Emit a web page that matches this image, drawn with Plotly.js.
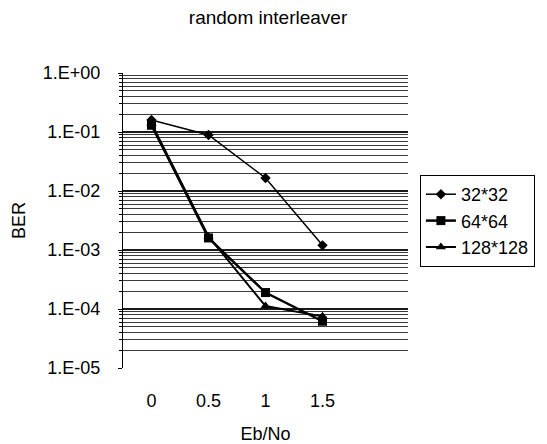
<!DOCTYPE html>
<html>
<head>
<meta charset="utf-8">
<script src="https://cdn.plot.ly/plotly-3.0.1.min.js"></script>
<style>html,body{margin:0;padding:0;background:#fff;}#chart{width:547px;height:444px;}</style>
</head>
<body>
<div id="chart"></div>
<script>
const ebno = [0, 0.5, 1, 1.5];
const ber32 = [0.16, 0.089, 0.0166, 0.0012];
const ber64 = [0.13, 0.0016, 0.00019, 0.000062];
const ber128 = [0.14, 0.0017, 0.000112, 0.000075];
const seriesNames = ['32*32', '64*64', '128*128'];
const yTickVals = [1, 0.1, 0.01, 0.001, 0.0001, 0.00001];
const yTickText = ['1.E+00', '1.E-01', '1.E-02', '1.E-03', '1.E-04', '1.E-05'];
const xTickText = ['0', '0.5', '1', '1.5'];

const font = {family: 'Liberation Sans, Arial, sans-serif', color: '#000'};

const traces = [
  {x: ebno, y: ber32, name: seriesNames[0], mode: 'lines+markers',
   line: {color: '#000', width: 1.5}, marker: {symbol: 'diamond', size: 8, color: '#000'}},
  {x: ebno, y: ber64, name: seriesNames[1], mode: 'lines+markers',
   line: {color: '#000', width: 2.5}, marker: {symbol: 'square', size: 9, color: '#000'}},
  {x: ebno, y: ber128, name: seriesNames[2], mode: 'lines+markers',
   line: {color: '#000', width: 2}, marker: {symbol: 'triangle-up', size: 9, color: '#000'}}
];

const layout = {
  width: 547, height: 444,
  paper_bgcolor: '#fff', plot_bgcolor: '#fff',
  margin: {l: 123, r: 137, t: 73, b: 76},
  title: {text: 'random interleaver', font: Object.assign({size: 19}, font),
          x: 0.49, xanchor: 'center', y: 0.962, yanchor: 'middle'},
  showlegend: true,
  legend: {font: Object.assign({size: 18}, font),
           bordercolor: '#000', borderwidth: 1, bgcolor: '#fff',
           tracegroupgap: 0, itemwidth: 30, xanchor: 'left', yanchor: 'top'},
  xaxis: {
    range: [-0.25, 2.25], tickvals: ebno, ticktext: xTickText,
    showgrid: false, zeroline: false, showline: false, ticks: '',
    ticklabelstandoff: 20,
    tickfont: Object.assign({size: 18}, font),
    title: {text: 'Eb/No', font: Object.assign({size: 18}, font), standoff: 20}
  },
  yaxis: {
    type: 'log', range: [-5, 0],
    tickvals: yTickVals, ticktext: yTickText,
    showgrid: true, gridcolor: '#1a1a1a', gridwidth: 1.5,
    minor: {dtick: 'D1', showgrid: true, gridcolor: '#3a3a3a', gridwidth: 1, ticks: 'outside', ticklen: 3, tickcolor: '#000'},
    zeroline: false, showline: true, linecolor: '#000', linewidth: 1,
    ticks: 'outside', ticklen: 4, tickcolor: '#000',
    ticklabelstandoff: 14,
    tickfont: Object.assign({size: 18}, font),
    title: {text: 'BER', font: Object.assign({size: 18}, font), standoff: 12}
  }
};
layout.legend.x = (422 - 123) / (547 - 123 - 137);
layout.legend.y = (444 - 76 - 175) / (444 - 73 - 76);

Plotly.newPlot('chart', traces, layout, {displayModeBar: false, staticPlot: true});
</script>
</body>
</html>
